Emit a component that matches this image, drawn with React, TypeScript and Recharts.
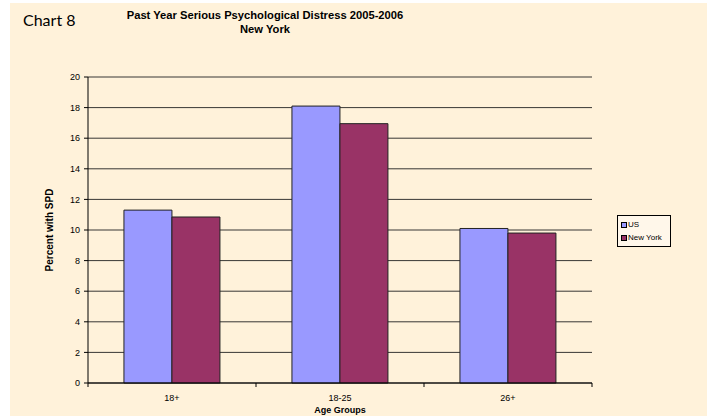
import { BarChart, Bar, XAxis, YAxis, CartesianGrid } from 'recharts'

const ageGroups = ['18+', '18-25', '26+']
const usValues = [11.3, 18.1, 10.1]
const nyValues = [10.85, 16.95, 9.8]
const yTicks = [0, 2, 4, 6, 8, 10, 12, 14, 16, 18, 20]

const CREAM = '#FFF2DA'
const US_COLOR = '#9999FF'
const NY_COLOR = '#993366'

const data = ageGroups.map((group, i) => ({
  group,
  us: usValues[i],
  ny: nyValues[i],
}))

const seriesList = [
  { key: 'us', name: 'US', color: US_COLOR },
  { key: 'ny', name: 'New York', color: NY_COLOR },
]

// category ticks sit on the band edges, like the Excel original
function AgeTick(props: any) {
  const { x, y, payload, index, width, visibleTicksCount } = props
  const bw = width / visibleTicksCount
  const left = x - bw / 2
  return (
    <g>
      <line x1={left} y1={y} x2={left} y2={y + 4} stroke="#000" />
      {index === visibleTicksCount - 1 && (
        <line x1={left + bw} y1={y} x2={left + bw} y2={y + 4} stroke="#000" />
      )}
      <text x={x} y={y + 18} textAnchor="middle" fontSize={9} fill="#000">
        {payload.value}
      </text>
    </g>
  )
}

function LegendBox() {
  return (
    <div
      style={{
        position: 'absolute',
        left: 617,
        top: 215,
        width: 45,
        border: '1px solid #000',
        background: '#FFF7EA',
        padding: '2px 4px 2px 3px',
        fontFamily: 'Arial, "Liberation Sans", sans-serif',
        fontSize: 8,
        lineHeight: '13px',
        color: '#000',
      }}
    >
      {seriesList.map((it) => (
        <div key={it.name} style={{ display: 'flex', alignItems: 'center' }}>
          <span
            style={{
              width: 4,
              height: 4,
              background: it.color,
              border: '1px solid #000',
              marginRight: 1,
            }}
          />
          {it.name}
        </div>
      ))}
    </div>
  )
}

export default function App() {
  return (
    <div style={{ position: 'fixed', left: 0, top: 0, width: 707, height: 416, background: '#fff' }}>
      <div style={{ position: 'absolute', left: 10, top: 3, right: 0, bottom: 0, background: CREAM }} />
      <div
        style={{
          position: 'absolute',
          left: 23,
          top: 10,
          fontFamily: 'Lato, "Open Sans", sans-serif',
          fontSize: 16,
          color: '#000',
        }}
      >
        Chart 8
      </div>
      <div
        style={{
          position: 'absolute',
          left: 115,
          width: 300,
          top: 8,
          textAlign: 'center',
          fontFamily: 'Arial, "Liberation Sans", sans-serif',
          fontWeight: 'bold',
          fontSize: 11.2,
          lineHeight: '14px',
          color: '#000',
        }}
      >
        Past Year Serious Psychological Distress 2005-2006
        <br />
        New York
      </div>
      <div style={{ position: 'absolute', left: 0, top: 0 }}>
        <BarChart
          width={707}
          height={416}
          data={data}
          margin={{ top: 77, right: 115, bottom: 0, left: 48 }}
          barCategoryGap="21.4%"
          barGap={0}
          style={{ fontFamily: 'Arial, "Liberation Sans", sans-serif' }}
        >
          <CartesianGrid vertical={false} stroke="#222" strokeOpacity={0.9} />
          <XAxis
            dataKey="group"
            height={33}
            tickSize={0}
            tickMargin={0}
            tickLine={false}
            axisLine={{ stroke: '#000' }}
            tick={<AgeTick />}
            interval={0}
            label={{
              value: 'Age Groups',
              position: 'insideBottom',
              offset: 3,
              fontSize: 9,
              fontWeight: 'bold',
              fill: '#000',
            }}
          />
          <YAxis
            width={40}
            domain={[0, 20]}
            ticks={yTicks}
            interval={0}
            tickSize={4}
            tickMargin={4}
            tick={{ fontSize: 9, fill: '#000' }}
            tickLine={{ stroke: '#000' }}
            axisLine={{ stroke: '#000' }}
            label={{
              value: 'Percent with SPD',
              angle: -90,
              position: 'insideLeft',
              offset: 1,
              style: { textAnchor: 'middle', fontSize: 10, fontWeight: 'bold', fill: '#000' },
            }}
          />
          {seriesList.map((s) => (
            <Bar
              key={s.key}
              dataKey={s.key}
              name={s.name}
              fill={s.color}
              stroke="#222"
              strokeWidth={1}
              isAnimationActive={false}
            />
          ))}
        </BarChart>
      </div>
      <LegendBox />
    </div>
  )
}
